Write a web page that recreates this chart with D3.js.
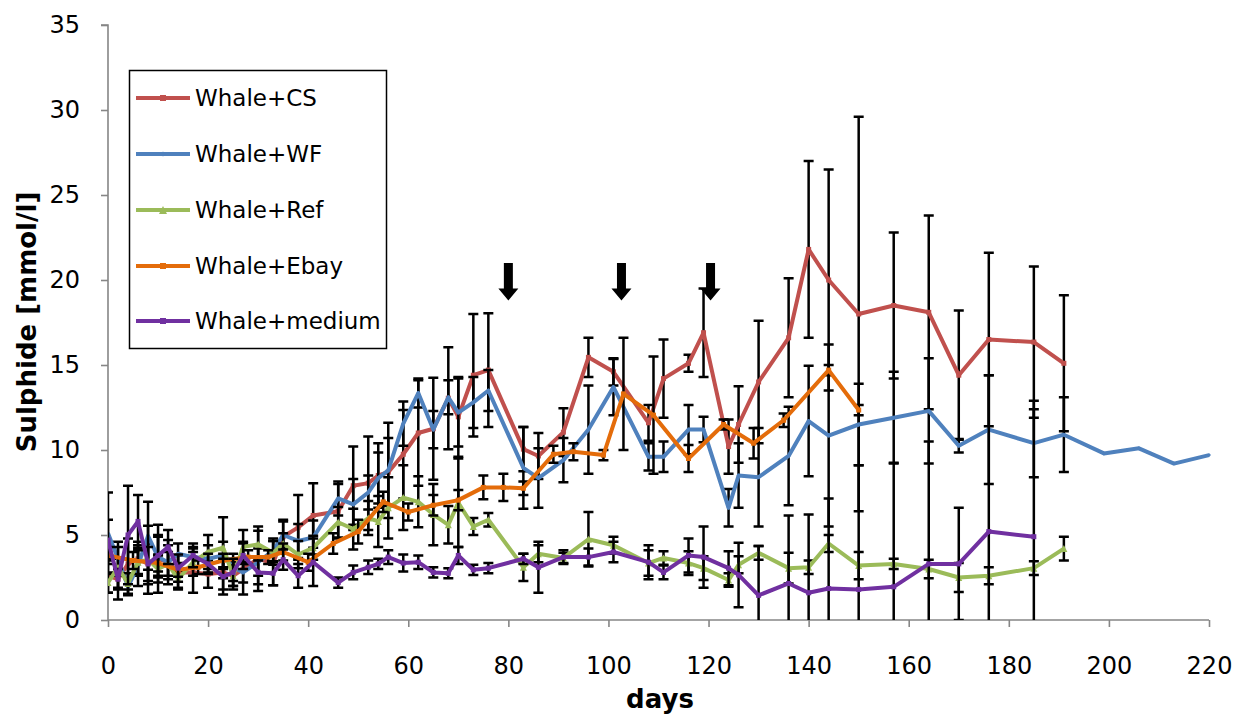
<!DOCTYPE html>
<html>
<head>
<meta charset="utf-8">
<script src="https://cdn.jsdelivr.net/npm/d3@7"></script>
<style>
  html, body { margin: 0; padding: 0; background: #ffffff; }
  svg { display: block; }
</style>
</head>
<body>
<script>
// ---------------- data ----------------
const days = [0,2,4,6,8,10,12,14,17,20,23,25,27,30,33,35,38,41,46,49,52,54,56,59,62,65,68,70,73,76,83,86,91,96,101,108,111,116,119,124,126,130,136,140,144,150,157,164,170,176,185,191];
const daysWF = days.concat([199,206,213,220]);
const daysMedium = days.slice(0, days.length - 1);
const daysEbay = [0,5,10,14,18,23,28,32,35,40,45,50,55,60,65,70,75,79,83,89,93,99,103,109,116,123,129,135,144,150];

const cs = [2.6,2.4,3.3,3.6,3.3,3.6,3.4,2.8,2.8,2.7,2.8,2.6,3.0,3.6,3.35,4.9,5.45,6.15,6.4,7.9,8.05,8.5,8.7,9.75,11.0,11.25,13.05,11.95,14.4,14.7,10.05,9.65,11.05,15.45,14.6,11.6,14.2,15.1,16.9,10.2,11.5,14.0,16.6,21.8,20.0,18.0,18.5,18.1,14.4,16.5,16.35,15.1];
const csErr = [1.0,1.2,1.5,1.0,1.2,2.0,1.3,1.0,1.2,0.8,1.0,0.8,1.5,1.9,1.3,1.0,1.9,1.9,1.6,2.3,2.75,1.9,2.0,2.6,3.1,3.0,3.0,2.35,3.6,3.35,1.3,1.35,1.4,1.15,0.8,1.05,2.3,0.5,2.6,1.6,2.25,3.6,3.5,5.2,6.5,11.6,4.3,5.7,3.8,5.1,4.45,4.0];

const wf = [5.1,3.6,1.95,3.2,4.95,3.7,3.4,3.9,3.7,3.6,3.8,3.1,2.8,3.4,4.1,5.0,4.65,4.85,7.15,6.8,7.5,8.35,8.8,11.55,13.35,11.2,13.1,12.2,12.8,13.5,8.95,8.35,9.4,11.2,13.7,9.6,9.6,11.2,11.2,6.6,8.5,8.4,9.65,11.7,10.85,11.5,11.9,12.3,10.25,11.2,10.4,10.9,9.8,10.1,9.2,9.7];
const wfErr = [2.4,1.0,0.5,1.2,2.0,1.2,1.0,0.6,0.6,0.8,0.8,0.8,0.6,0.8,0.7,0.8,1.0,1.0,1.0,1.5,1.0,1.5,2.8,1.3,0.85,1.1,1.0,2.0,1.5,1.2,2.4,1.75,1.3,2.6,1.65,0.8,0.9,1.45,0.75,1.1,1.9,2.9,2.9,3.25,5.35,2.4,2.7,3.1,0.4,3.2,2.0,2.2,null,null,null,null];

const ref = [2.2,3.1,2.15,3.4,3.55,3.0,3.3,2.4,3.4,4.0,4.25,2.6,4.3,4.45,3.95,4.5,3.85,4.25,5.75,5.35,6.0,5.8,6.6,7.2,6.95,6.2,5.6,6.9,5.5,5.9,3.1,3.9,3.65,4.75,4.4,3.35,3.65,3.35,3.05,2.35,3.25,3.95,3.05,3.1,4.5,3.2,3.3,3.0,2.5,2.6,3.05,4.2];
const refErr = [0.6,1.2,0.6,0.7,2.0,0.8,0.7,0.5,0.8,1.0,1.8,0.6,1.0,0.8,0.7,0.6,0.8,0.7,0.9,1.2,1.0,1.5,1.8,1.9,1.5,1.8,1.1,2.6,0.5,0.4,0.8,0.5,0.3,1.6,0.5,0.75,0.4,0.7,0.7,0.4,0.5,0.4,0.9,0.4,0.5,0.8,0.3,0.55,0.85,0.5,0.4,0.7];

const ebay = [3.8,3.5,3.35,2.95,3.1,3.5,3.7,3.7,4.0,3.4,4.5,5.2,6.95,6.35,6.75,7.05,7.8,7.8,7.75,9.75,9.9,9.7,13.3,12.05,9.5,11.5,10.4,11.75,14.7,12.35];
const ebayErr = [0.5,0.5,0.5,0.4,0.4,0.4,0.4,0.4,0.5,0.5,0.6,0.7,0.6,0.5,0.6,0.6,0.7,0.8,0.4,0.5,0.5,0.3,3.3,3.45,0.8,0.3,0.9,0.4,0.3,0.3];

const medium = [4.7,2.4,5.0,5.8,3.3,3.8,4.3,3.05,3.8,3.3,2.55,2.8,3.8,2.8,2.75,3.55,2.6,3.4,2.2,2.8,3.1,3.3,3.7,3.35,3.4,2.8,2.75,3.8,2.95,3.05,3.6,3.1,3.7,3.7,4.0,3.4,2.8,3.8,3.7,3.05,2.65,1.45,2.15,1.6,1.85,1.8,1.95,3.3,3.3,5.2,4.9];
const mediumErr = [1.2,0.6,2.9,1.55,1.0,1.2,1.0,0.8,0.7,0.6,1.05,0.8,0.8,0.7,0.7,0.6,0.7,1.4,0.3,0.4,0.4,0.3,0.4,0.5,0.4,0.3,0.3,0.5,0.3,0.3,0.3,1.5,0.4,0.5,0.6,1.0,0.4,1.0,1.8,1.0,1.9,2.9,4.0,4.6,5.3,7.3,7.3,7.2,3.3,9.2,8.0];

const seriesNames = ["Whale+CS","Whale+WF","Whale+Ref","Whale+Ebay","Whale+medium"];
const seriesColors = ["#C0504D","#4F81BD","#9BBB59","#E46C0A","#7030A0"];
const seriesMarkers = ["square","diamond","triangle","square","square"];

const xTicks = [0,20,40,60,80,100,120,140,160,180,200,220];
const yTicks = [0,5,10,15,20,25,30,35];
const arrowDays = [80, 102.6, 120.4];
const arrowTop = 21.0;
const arrowTip = 18.8;

const xTitle = "days";
const yTitle = "Sulphide [mmol/l]";

// ---------------- build ----------------
const W = 1234, H = 716;
const svg = d3.select("body").append("svg").attr("width", W).attr("height", H);

const x = d3.scaleLinear().domain([0, 220]).range([108, 1209]);
const y = d3.scaleLinear().domain([0, 35]).range([620, 25]);

const FONT = "'DejaVu Sans', Verdana, sans-serif";
const axisColor = "#868686";

// axes
const xAxis = d3.axisBottom(x).tickValues(xTicks).tickSize(7).tickPadding(30).tickFormat(d3.format("d"));
const gx = svg.append("g").attr("transform", `translate(0,${y(0)})`).call(xAxis);
const yAxis = d3.axisLeft(y).tickValues(yTicks).tickSize(7).tickPadding(21).tickFormat(d3.format("d"));
const gy = svg.append("g").attr("transform", `translate(${x(0)},0)`).call(yAxis);
[gx, gy].forEach(g => {
  g.select(".domain").attr("stroke", axisColor).attr("stroke-width", 1.6);
  g.selectAll(".tick line").attr("stroke", axisColor).attr("stroke-width", 1.6);
  g.selectAll(".tick text").attr("fill", "#000").style("font-family", FONT).style("font-size", "24px");
});
gy.select(".domain").attr("d", `M-7,${y(35)}H0V${y(0)}`);
gx.select(".domain").attr("d", `M0,0H${x(220)-x(0)}`).attr("transform", `translate(${x(0)},0)`);

// axis titles
svg.append("text").attr("x", 660).attr("y", 708).attr("text-anchor", "middle")
  .style("font-family", FONT).style("font-size", "26px").style("font-weight", "bold").text(xTitle);
svg.append("text").attr("transform", "translate(36,322) rotate(-90)").attr("text-anchor", "middle")
  .style("font-family", FONT).style("font-size", "26px").style("font-weight", "bold").text(yTitle);

const allSeries = [
  {days: days, vals: cs, err: csErr},
  {days: daysWF, vals: wf, err: wfErr},
  {days: days, vals: ref, err: refErr},
  {days: daysEbay, vals: ebay, err: ebayErr},
  {days: daysMedium, vals: medium, err: mediumErr}
].map((s, i) => ({...s, name: seriesNames[i], color: seriesColors[i], marker: seriesMarkers[i],
  pts: s.days.map((d, j) => ({d: d, v: s.vals[j], e: s.err[j]}))}));

const clipId = "plotclip";
svg.append("clipPath").attr("id", clipId).append("rect")
  .attr("x", x(0)).attr("y", y(35)).attr("width", x(220) - x(0) + 10).attr("height", y(0) - y(35));

const plot = svg.append("g").attr("clip-path", `url(#${clipId})`);

function markerPath(type, size) {
  const s = size / 2;
  if (type === "square") return `M${-s},${-s}H${s}V${s}H${-s}Z`;
  if (type === "diamond") return `M0,${-s}L${s},0L0,${s}L${-s},0Z`;
  if (type === "triangle") return `M0,${-s}L${s},${s}H${-s}Z`;
  return "";
}
const markerSize = {square: 5, diamond: 4, triangle: 7};

const line = d3.line().x(p => x(p.d)).y(p => y(p.v));
const capW = 5;

allSeries.forEach(s => {
  const g = plot.append("g");
  // error bars
  const eb = g.append("g").attr("stroke", "#000").attr("stroke-width", 2.5).attr("fill", "none");
  s.pts.filter(p => p.e != null && p.e > 0).forEach(p => {
    const xp = x(p.d), y1 = y(p.v + p.e), y0 = y(p.v - p.e);
    eb.append("path").attr("d", `M${xp},${y1}V${y0}M${xp - capW},${y1}H${xp + capW}M${xp - capW},${y0}H${xp + capW}`);
  });
  g.append("path").datum(s.pts).attr("d", line).attr("fill", "none")
    .attr("stroke", s.color).attr("stroke-width", 4).attr("stroke-linejoin", "round");
  g.selectAll("path.mk").data(s.pts).enter().append("path").attr("class", "mk")
    .attr("transform", p => `translate(${x(p.d)},${y(p.v)})`)
    .attr("d", markerPath(s.marker, markerSize[s.marker])).attr("fill", s.color);
});

// arrows
arrowDays.forEach(d => {
  const cx = x(d), top = y(arrowTop), tip = y(arrowTip);
  const headH = 12, shaftW = 9, headW = 20;
  svg.append("path")
    .attr("d", `M${cx - shaftW/2},${top}H${cx + shaftW/2}V${tip - headH}H${cx + headW/2}L${cx},${tip}L${cx - headW/2},${tip - headH}H${cx - shaftW/2}Z`)
    .attr("fill", "#000");
});

// legend
const lg = svg.append("g");
lg.append("rect").attr("x", 129.5).attr("y", 70.5).attr("width", 257).attr("height", 278)
  .attr("fill", "#fff").attr("stroke", "#000").attr("stroke-width", 1.5);
const legY = [98, 154, 210, 266, 321];
allSeries.forEach((s, i) => {
  lg.append("line").attr("x1", 136).attr("x2", 190).attr("y1", legY[i]).attr("y2", legY[i])
    .attr("stroke", s.color).attr("stroke-width", 4);
  lg.append("path").attr("transform", `translate(163,${legY[i]})`)
    .attr("d", markerPath(s.marker, markerSize[s.marker] + 1)).attr("fill", s.color);
  lg.append("text").attr("x", 195).attr("y", legY[i]).attr("dy", "0.36em")
    .style("font-family", FONT).style("font-size", "23px").text(s.name);
});
</script>
</body>
</html>
